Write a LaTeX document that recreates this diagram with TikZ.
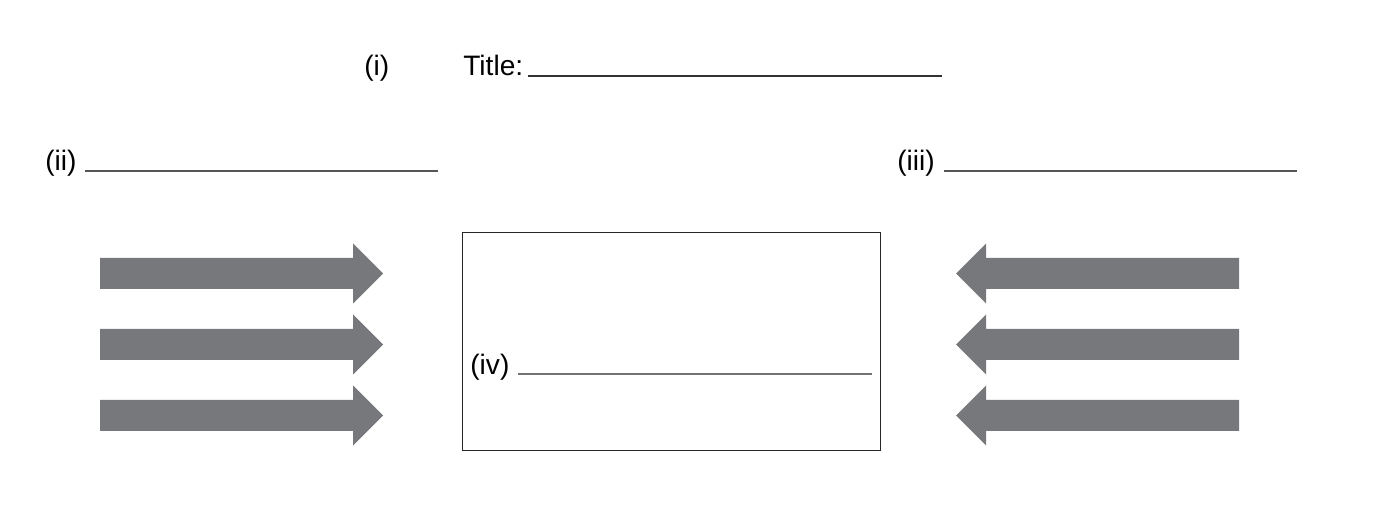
\documentclass[tikz,border=0pt]{standalone}
\usepackage{fontspec}
\setmainfont{Liberation Sans}
\definecolor{arrowgray}{HTML}{77787B}
\definecolor{linegray}{HTML}{555555}
\tikzset{
  blank/.style={line width=0.6pt, draw=linegray},
  label/.style={anchor=base west, inner sep=0pt, font=\fontsize{16}{19}\selectfont},
  bigarrow/.style={fill=arrowgray, draw=none}
}
\begin{document}
\begin{tikzpicture}[x=0.02cm,y=-0.02cm]
  \useasboundingbox (0,0) rectangle (1400,516);
  % heading
  \node[label] (i) at(364,76) {(i)};
  \node[label] (title) at(463,76) {Title:};
  \coordinate (t1) at(528,76);
  \coordinate (t2) at(942,76);
  \draw[blank,draw=black!80] (t1)-- (t2);
  % left and right labels
  \node[label] (ii) at(45,171) {(ii)};
  \coordinate (l1) at(85,171);
  \coordinate (l2) at(438,171);
  \draw[blank] (l1)-- (l2);
  \node[label] (iii) at(897,171) {(iii)};
  \coordinate (r1) at(944,171);
  \coordinate (r2) at(1297,171);
  \draw[blank] (r1)-- (r2);
  % middle box
  \node[draw=black!85, line width=0.7pt, minimum width=418*0.02cm, minimum height=218*0.02cm,
        inner sep=0pt, anchor=north west] (box) at(462,232) {};
  \node[label] (iv) at(470,375) {(iv)};
  \coordinate (m1) at(518,374);
  \coordinate (m2) at(872,374);
  \draw[blank,draw=black!55] (m1)-- (m2);
  % arrows
  \foreach \c in {273.5,344.5,415.5} {
    \fill[bigarrow] (100,\c-15.5)-- (353,\c-15.5)-- (353,\c-30)-- (383,\c)
      -- (353,\c+30)-- (353,\c+15.5)-- (100,\c+15.5)-- cycle;
    \fill[bigarrow] (1239,\c-15.5)-- (986,\c-15.5)-- (986,\c-30)-- (956,\c)
      -- (986,\c+30)-- (986,\c+15.5)-- (1239,\c+15.5)-- cycle;
  }
\end{tikzpicture}
\end{document}
